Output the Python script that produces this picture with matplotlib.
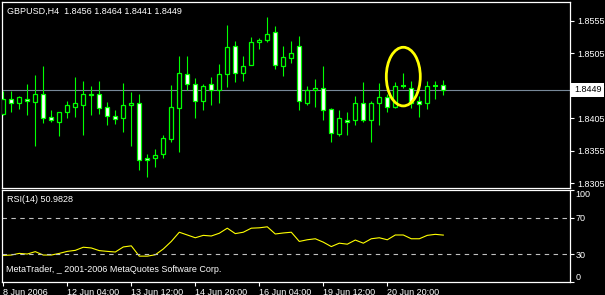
import numpy as np
import matplotlib.pyplot as plt
from matplotlib.patches import Ellipse

plt.rcParams['font.family'] = ['Liberation Sans', 'DejaVu Sans']

# GBPUSD H4 bars, oldest first
opens = [1.8412, 1.8435, 1.8429, 1.8435, 1.8430, 1.8442, 1.8407, 1.8400, 1.8414, 1.8423,
         1.8426, 1.8443, 1.8442, 1.8423, 1.8409, 1.8406, 1.8426, 1.8429, 1.8344, 1.8344,
         1.8350, 1.8373, 1.8421, 1.8473, 1.8457, 1.8432, 1.8458, 1.8449, 1.8473, 1.8516,
         1.8475, 1.8487, 1.8522, 1.8525, 1.8537, 1.8486, 1.8498, 1.8516, 1.8429, 1.8448,
         1.8452, 1.8419, 1.8381, 1.8403, 1.8402, 1.8429, 1.8402, 1.8429, 1.8438, 1.8423,
         1.8455, 1.8452, 1.8432, 1.8429, 1.8455, 1.8456]
highs = [1.8447, 1.8447, 1.8439, 1.8457, 1.8472, 1.8485, 1.8418, 1.8414, 1.8431, 1.8469,
         1.8463, 1.8454, 1.8462, 1.8430, 1.8418, 1.8459, 1.8445, 1.8442, 1.8350, 1.8358,
         1.8379, 1.8456, 1.8500, 1.8500, 1.8467, 1.8458, 1.8469, 1.8488, 1.8548, 1.8523,
         1.8500, 1.8530, 1.8529, 1.8561, 1.8547, 1.8516, 1.8523, 1.8532, 1.8455, 1.8466,
         1.8486, 1.8421, 1.8418, 1.8415, 1.8439, 1.8460, 1.8431, 1.8459, 1.8442, 1.8460,
         1.8475, 1.8462, 1.8439, 1.8463, 1.8462, 1.8464]
lows = [1.8410, 1.8415, 1.8420, 1.8410, 1.8362, 1.8398, 1.8399, 1.8378, 1.8406, 1.8407,
        1.8380, 1.8410, 1.8412, 1.8394, 1.8396, 1.8384, 1.8363, 1.8325, 1.8315, 1.8331,
        1.8344, 1.8368, 1.8353, 1.8449, 1.8406, 1.8418, 1.8426, 1.8429, 1.8453, 1.8461,
        1.8462, 1.8487, 1.8512, 1.8522, 1.8480, 1.8470, 1.8490, 1.8418, 1.8426, 1.8423,
        1.8403, 1.8368, 1.8378, 1.8380, 1.8394, 1.8400, 1.8368, 1.8394, 1.8414, 1.8421,
        1.8451, 1.8421, 1.8407, 1.8420, 1.8435, 1.8441]
closes = [1.8435, 1.8428, 1.8437, 1.8432, 1.8443, 1.8405, 1.8403, 1.8414, 1.8426, 1.8428,
          1.8443, 1.8440, 1.8421, 1.8408, 1.8404, 1.8426, 1.8429, 1.8341, 1.8341, 1.8349,
          1.8375, 1.8423, 1.8475, 1.8458, 1.8432, 1.8455, 1.8449, 1.8473, 1.8514, 1.8475,
          1.8486, 1.8522, 1.8525, 1.8534, 1.8487, 1.8499, 1.8505, 1.8431, 1.8449, 1.8451,
          1.8417, 1.8382, 1.8406, 1.8400, 1.8429, 1.8403, 1.8429, 1.8437, 1.8423, 1.8455,
          1.8455, 1.8429, 1.8427, 1.8454, 1.8455, 1.8449]
rsi = [28.9, 29.3, 31.1, 30.4, 33.0, 29.3, 29.3, 31.1, 33.3, 34.4,
       37.8, 37.0, 34.1, 33.3, 32.6, 38.1, 39.3, 28.1, 28.1, 29.6,
       35.9, 44.1, 54.1, 51.1, 48.1, 50.7, 50.0, 53.0, 58.5, 52.6,
       54.1, 58.5, 58.9, 60.0, 52.2, 53.3, 54.1, 44.1, 45.9, 47.0,
       43.3, 38.5, 42.2, 41.1, 45.6, 42.2, 47.0, 48.1, 45.9, 51.1,
       51.1, 47.0, 47.0, 50.7, 51.8, 50.9828]

tick_bars = [0, 8, 16, 24, 32, 40, 48]
tick_labels = ['8 Jun 2006', '12 Jun 04:00', '13 Jun 12:00', '14 Jun 20:00',
               '16 Jun 04:00', '19 Jun 12:00', '20 Jun 20:00']
price_ticks = [1.8305, 1.8355, 1.8405, 1.8455, 1.8505, 1.8555]
rsi_ticks = [0, 30, 70, 100]
bid = closes[-1]
highlight_bar = 50   # bar circled in yellow

W, H = 605, 295
FG = 'white'
GREEN = '#00ff00'
FS = 6.5


def fx(x): return x / W
def fy(y): return 1 - y / H


fig = plt.figure(figsize=(W / 100, H / 100), dpi=100, facecolor='black')
ax = fig.add_axes([fx(2), fy(187.5), 568 / W, 185.5 / H], facecolor='black')
ax2 = fig.add_axes([fx(2), fy(282), 568 / W, 92 / H], facecolor='black')

idx = np.arange(len(opens))
o, h, l, c = map(np.array, (opens, highs, lows, closes))

# candles
ax.vlines(idx, l, h, color=GREEN, lw=0.8, zorder=2)
doji = np.abs(c - o) < 0.00005
body = ~doji
ax.bar(idx[body], np.abs(c - o)[body], bottom=np.minimum(o, c)[body], width=0.5,
       color=np.where(c[body] < o[body], 'white', 'black'), edgecolor=GREEN, lw=0.9, zorder=3)
ax.hlines(o[doji], idx[doji] - 0.3, idx[doji] + 0.3, color=GREEN, lw=1.5, zorder=3)

ax.axhline(bid, color='#778899', lw=0.8, zorder=1)
ax.add_patch(Ellipse((highlight_bar, 1.8469), width=4.25, height=0.0090, fill=False,
                     edgecolor='yellow', lw=2, zorder=4))

xmin = -0.1625
ax.set_xlim(xmin, xmin + 568 / 8)
ax.set_ylim(1.82988, 1.85835)
ax.set_xticks([])
ax.yaxis.tick_right()
ax.set_yticks(price_ticks)
ax.set_yticklabels([f'{p:.4f}' for p in price_ticks])
ax.tick_params(axis='y', colors=FG, labelsize=FS, length=3, width=0.8, pad=2)
for s in ax.spines.values():
    s.set_color(FG)
    s.set_linewidth(0.9)

fig.text(fx(574), fy(89.8), f'{bid:.4f}', color='black', fontsize=FS, va='center', ha='left',
         bbox=dict(boxstyle='square,pad=0.3', fc='white', ec='none'))
fig.text(fx(7), fy(11), f'GBPUSD,H4  {opens[-1]:.4f} {highs[-1]:.4f} {lows[-1]:.4f} {closes[-1]:.4f}',
         color=FG, fontsize=FS, va='center')

# RSI window
ax2.plot(idx, rsi, color='yellow', lw=0.8)
for lev in (30, 70):
    ax2.axhline(lev, color='#c0c0c0', lw=0.8, ls=(0, (4, 4)))
ax2.set_xlim(xmin, xmin + 568 / 8)
ax2.set_ylim(0, 100)
ax2.yaxis.tick_right()
ax2.set_yticks(rsi_ticks)
ax2.set_yticklabels([str(t) for t in rsi_ticks])
lbls = ax2.get_yticklabels()
lbls[0].set_va('bottom')
lbls[-1].set_va('top')
ax2.set_xticks(tick_bars)
ax2.set_xticklabels(tick_labels, ha='left')
ax2.tick_params(colors=FG, labelsize=FS, length=3, width=0.8, pad=1)
for s in ax2.spines.values():
    s.set_color(FG)
    s.set_linewidth(0.9)

fig.text(fx(7), fy(200), f'RSI(14) {rsi[-1]:.4f}', color=FG, fontsize=FS, va='center')
fig.text(fx(6), fy(270), 'MetaTrader, _ 2001-2006 MetaQuotes Software Corp.', color=FG,
         fontsize=FS, va='center')

fig.savefig('out.png', dpi=100, facecolor='black')
